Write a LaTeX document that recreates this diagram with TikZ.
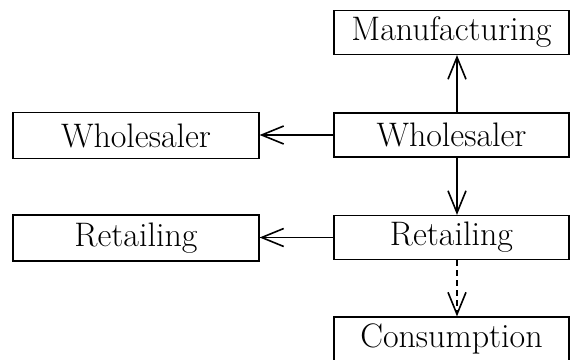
\documentclass[tikz,border=0pt]{standalone}
\usetikzlibrary{arrows.meta}
\begin{document}
\begin{tikzpicture}[x=0.5pt,y=-0.5pt,
  box/.style={draw,line width=0.6pt,inner sep=0pt,font=\fontsize{17}{19}\selectfont},
  rbox/.style={box,minimum width=117.5pt,minimum height=22pt},
  lbox/.style={box,minimum width=123pt,minimum height=23pt},
  arr/.style={line width=0.6pt,-{Straight Barb[length=11pt,width=9pt,line width=0.8pt]}}]
\useasboundingbox (0,0) rectangle (570,360);
\node[rbox] (man) at (451.5,32.5) {Manufacturing};
\node[rbox] (whR) at (451.5,135) {Wholesaler};
\node[rbox] (retR) at (451.5,237.5) {Retailing};
\node[rbox] (con) at (451.5,339) {Consumption};
\node[lbox] (whL) at (136,135.5) {Wholesaler};
\node[lbox] (retL) at (136,238) {Retailing};
\coordinate (ax) at (457,0);
\draw[arr] (whR.north -| ax) -- (man.south -| ax);
\draw[arr] (whR.south -| ax) -- (retR.north -| ax);
\draw[arr,dashed,dash pattern=on 3pt off 2pt] (retR.south -| ax) -- (con.north -| ax);
\draw[arr] (whR.west) -- (whR.west -| whL.east);
\draw[arr] (retR.west) -- (retR.west -| retL.east);
\end{tikzpicture}
\end{document}
